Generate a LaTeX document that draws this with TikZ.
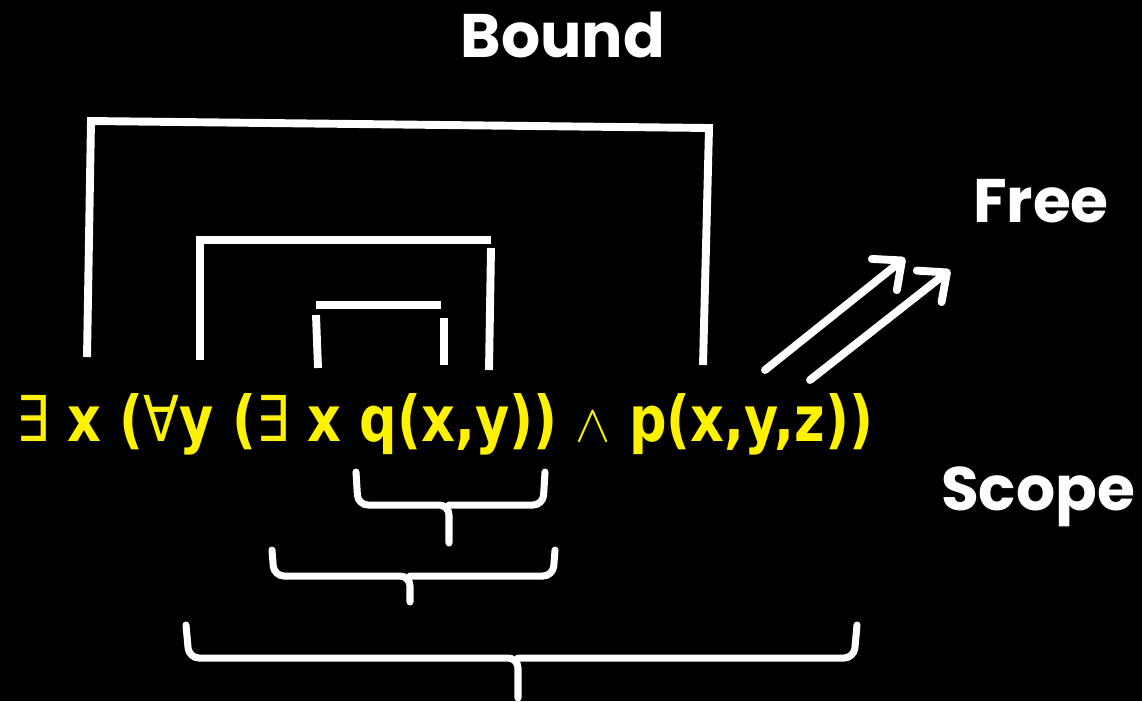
\RequirePackage{fix-cm}
\documentclass[tikz,border=0pt]{standalone}
\usepackage{fontspec}
\setmainfont{DejaVu Sans}
\newfontfamily\exprfont{DejaVu Sans}[FakeStretch=0.83]
\newfontfamily\labelfont{Poppins}
\usetikzlibrary{arrows.meta}
\begin{document}
\begin{tikzpicture}[
  x=0.02cm, y=-0.02cm,
  formula/.style={text=yellow, font=\exprfont\fontsize{36}{40}\selectfont\bfseries, inner sep=0pt, anchor=base west},
  tag/.style={text=white, font=\labelfont\fontsize{35}{40}\selectfont\bfseries, inner sep=0pt, anchor=base},
  bind/.style={white, line width=4.5pt},
  brace/.style={white, line width=4pt, rounded corners=0.2cm, line cap=round},
  arrow/.style={white, line width=4.5pt, line cap=round, -{Straight Barb[round, length=0.45cm, width=0.8cm]}}
]
\useasboundingbox (0,0) rectangle (1142,701);
\fill[black] (0,0) rectangle (1142,701);

% the formula
\node[formula] (expr) at (16,441) {\textmd{∃} x (\textmd{∀}y (\textmd{∃} x q(x,y)) {\fontsize{30}{30}\selectfont$\wedge$} p(x,y,z))};

% labels
\node[tag] (bound) at (563,57) {Bound};
\node[tag] (free) at (1041,222) {Free};
\node[tag] (scope) at (1038,510) {Scope};

% binding brackets
\draw[bind] (87,357) -- (91,121) -- (709,128) -- (703,365);
\draw[bind] (200,360) -- (200,240) -- (491,240);
\draw[bind] (491,248) -- (489,370);
\draw[bind] (316,305) -- (441,305);
\draw[bind] (316,315) -- (318,368);
\draw[bind] (444,318) -- (444,365);

% free arrows
\coordinate (z1) at (765,370);
\coordinate (f1) at (905,258);
\coordinate (z2) at (810,380);
\coordinate (f2) at (950,270);
\draw[arrow] (z1) -- (f1);
\draw[arrow] (z2) -- (f2);

% scope braces
\draw[brace] (356,472) -- (358,505) -- (449,505) -- (449,543);
\draw[brace] (545,472) -- (543,505) -- (449,505);
\draw[brace] (272,550) -- (274,576) -- (410,576) -- (410,602);
\draw[brace] (555,550) -- (553,576) -- (410,576);
\draw[brace] (186,625) -- (189,658) -- (518,658) -- (518,698);
\draw[brace] (857,625) -- (854,658) -- (518,658);
\end{tikzpicture}
\end{document}
